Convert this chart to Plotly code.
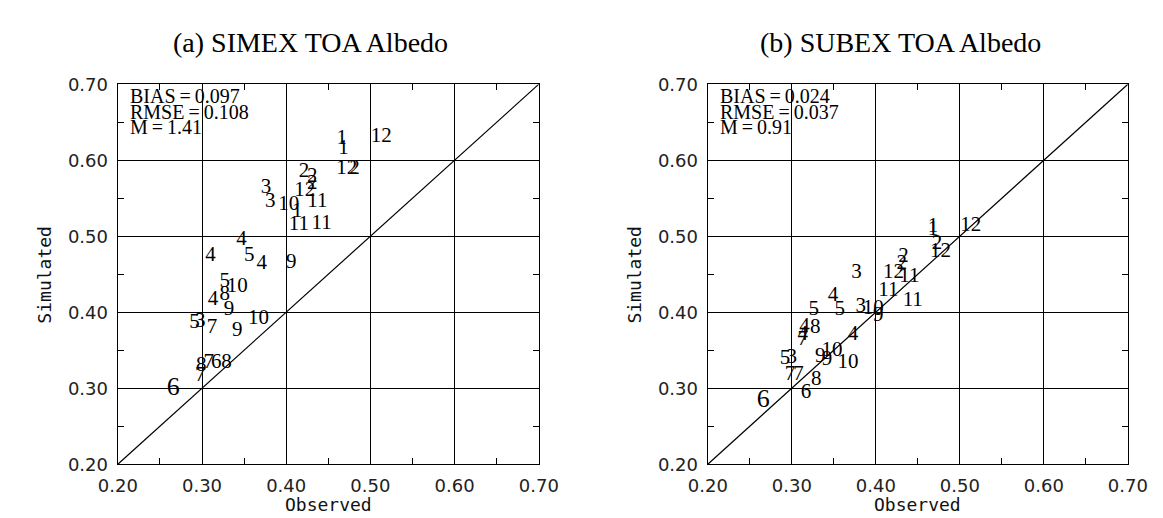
import plotly.graph_objects as go

# ---------------- data ----------------
simex_labels = ["1", "1", "12", "12", "2", "2", "2", "2", "12", "11",
                "3", "3", "10", "1", "11", "11", "4", "4", "5", "4", "9",
                "5", "10", "4", "8", "9", "5", "3", "7", "10", "9",
                "7", "6", "8", "8", "7", "6"]
simex_obs = [0.466, 0.468, 0.513, 0.472, 0.481, 0.421, 0.431, 0.431, 0.422, 0.437,
             0.376, 0.381, 0.403, 0.413, 0.415, 0.442, 0.347, 0.310, 0.356, 0.371, 0.406,
             0.327, 0.342, 0.313, 0.327, 0.332, 0.291, 0.298, 0.312, 0.367, 0.342,
             0.308, 0.317, 0.329, 0.299, 0.298, 0.266]
simex_sim = [0.628, 0.615, 0.631, 0.589, 0.589, 0.585, 0.578, 0.569, 0.560, 0.546,
             0.564, 0.546, 0.542, 0.532, 0.515, 0.517, 0.495, 0.474, 0.474, 0.464, 0.465,
             0.440, 0.434, 0.417, 0.423, 0.403, 0.386, 0.388, 0.380, 0.392, 0.375,
             0.334, 0.334, 0.334, 0.330, 0.316, 0.299]

subex_labels = ["1", "1", "12", "2", "12", "2", "2", "12", "11", "11", "11",
                "3", "4", "5", "5", "3", "10", "9", "4", "8", "4", "7", "4",
                "10", "9", "9", "10", "5", "3", "7", "7", "8", "6", "6"]
subex_obs = [0.468, 0.468, 0.513, 0.473, 0.477, 0.433, 0.431, 0.421, 0.440, 0.415, 0.444,
             0.377, 0.349, 0.326, 0.357, 0.382, 0.397, 0.403, 0.315, 0.328, 0.313, 0.313, 0.373,
             0.348, 0.334, 0.342, 0.367, 0.292, 0.300, 0.298, 0.308, 0.329, 0.317, 0.266]
subex_sim = [0.512, 0.508, 0.514, 0.490, 0.479, 0.473, 0.464, 0.452, 0.447, 0.428, 0.415,
             0.452, 0.421, 0.403, 0.403, 0.407, 0.404, 0.395, 0.381, 0.379, 0.370, 0.364, 0.370,
             0.349, 0.341, 0.337, 0.333, 0.339, 0.340, 0.318, 0.318, 0.311, 0.294, 0.284]

panel_titles = ["(a) SIMEX TOA Albedo", "(b) SUBEX TOA Albedo"]
stats = [["BIAS=0.097", "RMSE=0.108", "M=1.41"],
         ["BIAS=0.024", "RMSE=0.037", "M=0.91"]]
axis_range = [0.2, 0.7]

# ---------------- figure ----------------
W, H = 1163, 518
fig = go.Figure()

SERIF = "Liberation Serif"
SANS = "DejaVu Sans"
MONO = "DejaVu Sans Mono"

def sizes_for(labels, obs):
    return [26 if (lab == "6" and o < 0.28) else 21 for lab, o in zip(labels, obs)]

panels = [(simex_labels, simex_obs, simex_sim, "x", "y"),
          (subex_labels, subex_obs, subex_sim, "x2", "y2")]

for labels, obs, sim, xa, ya in panels:
    fig.add_trace(go.Scatter(x=axis_range, y=axis_range, mode="lines",
                             line=dict(color="black", width=1.2),
                             xaxis=xa, yaxis=ya, showlegend=False, hoverinfo="skip"))
    fig.add_trace(go.Scatter(x=obs, y=sim, mode="text", text=labels,
                             textposition="middle center",
                             textfont=dict(family=SERIF, size=sizes_for(labels, obs), color="black"),
                             xaxis=xa, yaxis=ya, showlegend=False, cliponaxis=False))

px_left = [93, 704]
px_right = [529, 1139]
py_top, py_bot = 68, 464
ydom = [1 - py_bot / H, 1 - py_top / H]

axis_common = dict(range=axis_range, tick0=0.2, dtick=0.1, tickformat=".2f",
                   showgrid=True, gridcolor="black", gridwidth=1.2,
                   showline=True, linecolor="black", linewidth=1.4, mirror="allticks",
                   ticks="inside", ticklen=0, zeroline=False,
                   tickfont=dict(family=SANS, size=18, color="#222"),
                   ticklabelstandoff=5,
                   minor=dict(dtick=0.05, ticks="inside", ticklen=6, tickcolor="black",
                              tickwidth=1, showgrid=False))

layout = dict(width=W, height=H, margin=dict(l=0, r=0, t=0, b=0),
              paper_bgcolor="white", plot_bgcolor="white", showlegend=False)
for i in range(2):
    sfx = "" if i == 0 else "2"
    layout["xaxis" + sfx] = dict(axis_common, domain=[px_left[i] / W, px_right[i] / W],
                                 anchor="y" + sfx)
    layout["yaxis" + sfx] = dict(axis_common, domain=ydom, anchor="x" + sfx)
fig.update_layout(**layout)

annotations = []
for i in range(2):
    sfx = "" if i == 0 else "2"
    cx = (px_left[i] + 200) / W
    annotations.append(dict(text=panel_titles[i], x=cx, y=1 - 25 / H, xref="paper", yref="paper",
                            showarrow=False, font=dict(family=SERIF, size=28, color="black"),
                            xanchor="center", yanchor="middle"))
    for j, line in enumerate(stats[i]):
        shown = line.replace("=", "\u2009=\u2009")
        annotations.append(dict(text=shown, x=0.024, y=1 - (12 + 16.5 * j) / (py_bot - py_top),
                                xref="x" + sfx + " domain", yref="y" + sfx + " domain",
                                showarrow=False, xanchor="left", yanchor="middle",
                                font=dict(family=SERIF, size=20, color="black")))
    annotations.append(dict(text="Observed", x=(px_left[i] + px_right[i]) / 2 / W, y=1 - 506 / H,
                            xref="paper", yref="paper", showarrow=False,
                            font=dict(family=MONO, size=18, color="#111"),
                            xanchor="center", yanchor="middle"))
    annotations.append(dict(text="Simulated", x=(px_left[i] - 76) / W, y=1 - (py_top + py_bot) / 2 / H,
                            xref="paper", yref="paper", showarrow=False, textangle=-90,
                            font=dict(family=MONO, size=18, color="#111"),
                            xanchor="center", yanchor="middle"))
fig.update_layout(annotations=annotations)

fig.write_html("out.html")
